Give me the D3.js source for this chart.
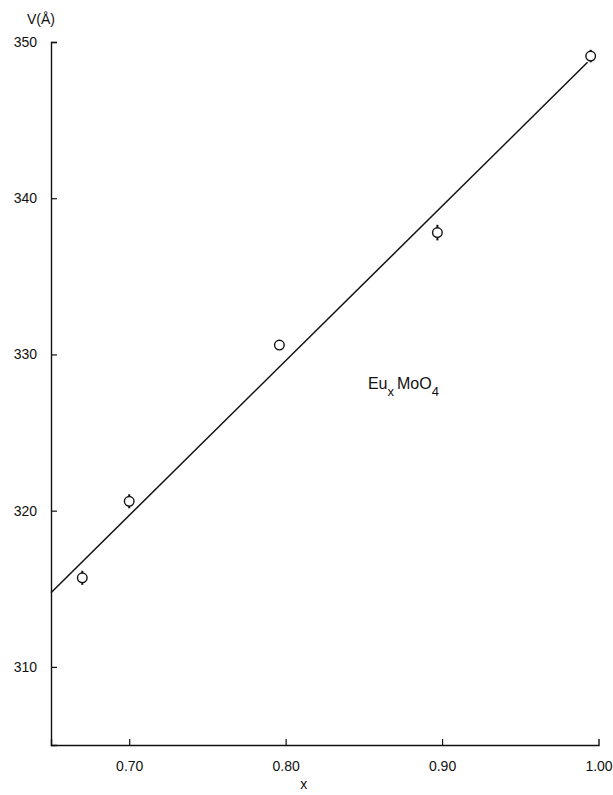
<!DOCTYPE html>
<html>
<head>
<meta charset="utf-8">
<script src="https://cdn.jsdelivr.net/npm/d3@7"></script>
<style>
  body { margin: 0; background: #fff; }
  svg text { font-family: "Liberation Sans", "DejaVu Sans", sans-serif; fill: #111; }
</style>
</head>
<body>
<div id="chart"></div>
<script>
// measured points (x, volume, error)
var xValues = [0.670, 0.700, 0.796, 0.897, 0.995];
var vValues = [315.7, 320.6, 330.6, 337.8, 349.1];
var vErrors = [0.45, 0.45, 0, 0.5, 0.4];

// fitted line end points
var fitX = [0.65, 0.993];
var fitV = [314.75, 348.7];

var xTicks = [0.70, 0.80, 0.90, 1.00];
var xTickLabels = ["0.70", "0.80", "0.90", "1.00"];
var yTicks = [310, 320, 330, 340, 350];
var yTickLabels = ["310", "320", "330", "340", "350"];

var width = 613, height = 795;
var margin = {left: 51, right: 15, top: 42, bottom: 50};

var svg = d3.select("#chart").append("svg")
    .attr("width", width)
    .attr("height", height);

var x = d3.scaleLinear().domain([0.65, 1.00]).range([margin.left, 598.5]);
var y = d3.scaleLinear().domain([305, 350]).range([height - margin.bottom, margin.top]);

// x axis, ticks pointing up
var xAxis = d3.axisBottom(x)
    .tickValues(xTicks)
    .tickSize(-6)
    .tickPadding(16)
    .tickFormat(function(d, i){ return xTickLabels[i]; });

var gx = svg.append("g")
    .attr("transform", "translate(0," + y(305) + ")")
    .call(xAxis);
gx.select(".domain").attr("stroke", "#111").attr("stroke-width", 1.4);
gx.selectAll(".tick line").attr("stroke", "#111").attr("stroke-width", 1.2)
    .filter(function(d){ return d === 1.00; }).remove();
gx.selectAll(".tick text").attr("font-size", 14).style("font-family", null);

// y axis, ticks pointing right
var yAxis = d3.axisLeft(y)
    .tickValues(yTicks)
    .tickSize(-6)
    .tickPadding(14)
    .tickFormat(function(d, i){ return yTickLabels[i]; });

var gy = svg.append("g")
    .attr("transform", "translate(" + x(0.65) + ",0)")
    .call(yAxis);
gy.select(".domain").attr("stroke", "#111").attr("stroke-width", 1.4);
gy.selectAll(".tick line").attr("stroke", "#111").attr("stroke-width", 1.2);
gy.selectAll(".tick text").attr("font-size", 14).style("font-family", null);

// axis titles
svg.append("text")
    .attr("x", 27).attr("y", 24)
    .attr("font-size", 14)
    .text("V(Å)");

svg.append("text")
    .attr("x", x(0.8115)).attr("y", 789)
    .attr("text-anchor", "middle")
    .attr("font-size", 14)
    .text("x");

// fitted line
svg.append("line")
    .attr("x1", x(fitX[0])).attr("y1", y(fitV[0]))
    .attr("x2", x(fitX[1])).attr("y2", y(fitV[1]))
    .attr("stroke", "#111")
    .attr("stroke-width", 1.5);

// error bars + open circles
var pts = svg.append("g").selectAll("g")
    .data(xValues.map(function(d, i){ return {x: d, v: vValues[i], e: vErrors[i]}; }))
  .enter().append("g");

pts.append("line")
    .attr("x1", function(d){ return x(d.x); })
    .attr("x2", function(d){ return x(d.x); })
    .attr("y1", function(d){ return y(d.v + d.e); })
    .attr("y2", function(d){ return y(d.v - d.e); })
    .attr("stroke", "#111")
    .attr("stroke-width", 2);

pts.append("circle")
    .attr("cx", function(d){ return x(d.x); })
    .attr("cy", function(d){ return y(d.v); })
    .attr("r", 4.8)
    .attr("fill", "#fff")
    .attr("stroke", "#111")
    .attr("stroke-width", 1.4);

// compound label
var lbl = svg.append("text")
    .attr("x", x(0.8526)).attr("y", y(327.8))
    .attr("font-size", 16);
lbl.append("tspan").text("Eu");
lbl.append("tspan").attr("dy", 7).attr("font-size", 13).text("x");
lbl.append("tspan").attr("dy", -7).attr("dx", 3).text("MoO");
lbl.append("tspan").attr("dy", 7).attr("font-size", 13).text("4");
</script>
</body>
</html>
